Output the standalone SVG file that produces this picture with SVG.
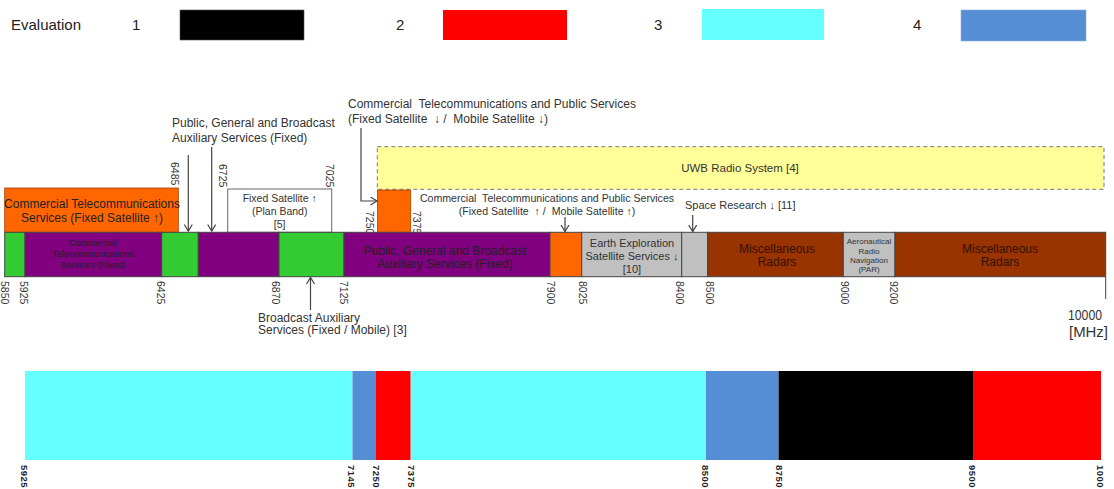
<svg xmlns="http://www.w3.org/2000/svg" width="1114" height="489" viewBox="0 0 1114 489">
<style>
text{font-family:"Liberation Sans",Arial,sans-serif;fill:#333}
.lg{font-size:15px;fill:#222}
.tk{font-size:10.5px;fill:#333;dominant-baseline:central}
.bt{font-size:9.5px;font-weight:bold;fill:#222;dominant-baseline:central;letter-spacing:0.5px}
.seg{stroke:#444;stroke-width:1}
.arr{fill:none;stroke:#444;stroke-width:1.2;marker-end:url(#ah)}
.c{text-anchor:middle}
.lbl{font-size:12px;fill:#333}
.in{fill:#222}
.rad{font-size:12px;fill:#331100;text-anchor:middle}
</style>
<defs>
<marker id="ah" markerUnits="userSpaceOnUse" markerWidth="10" markerHeight="10" refX="7" refY="4.5" orient="auto" viewBox="0 0 10 10">
<path d="M0.5,0.5 L7,4.5 L0.5,8.5" fill="none" stroke="#444" stroke-width="1.2"/>
</marker>
</defs>

<g id="legend">
<text class="lg" x="11" y="30">Evaluation</text>
<text class="lg" x="132" y="30">1</text>
<rect x="180" y="10" width="124" height="30" fill="#000" stroke="#555" stroke-width="0.6"/>
<text class="lg" x="396" y="30">2</text>
<rect x="443" y="10" width="124" height="30" fill="#FF0000"/>
<text class="lg" x="654" y="30">3</text>
<rect x="702" y="9" width="122" height="31" fill="#66FFFF"/>
<text class="lg" x="913" y="30">4</text>
<rect x="961" y="10" width="125" height="31" fill="#558ED5" stroke="#8aaee0" stroke-width="0.6"/>
</g>

<g id="uwb">
<rect x="377.3" y="146.7" width="726.7" height="42.6" fill="#FFFF99" stroke="#777" stroke-width="1" stroke-dasharray="4 3"/>
<text class="c" x="740" y="172" font-size="11.5" fill="#333">UWB Radio System [4]</text>
</g>

<g id="cts-fixed-sat-up">
<rect x="4.7" y="188" width="173.6" height="44.3" fill="#FF6600" stroke="#a04000" stroke-width="0.8"/>
<text class="c in" x="92" y="208" font-size="12">Commercial Telecommunications</text>
<text class="c in" x="92" y="222" font-size="12">Services (Fixed Satellite ↑)</text>
</g>

<g id="fixed-sat-plan">
<rect x="227.7" y="189" width="104" height="43.3" fill="#fff" stroke="#666" stroke-width="1"/>
<text class="c" x="279.7" y="201.7" font-size="10.5" fill="#444">Fixed Satellite ↑</text>
<text class="c" x="279.7" y="215" font-size="10.5" fill="#444">(Plan Band)</text>
<text class="c" x="279.7" y="228.3" font-size="10.5" fill="#444">[5]</text>
</g>

<g id="cts-7250">
<rect x="377.5" y="190" width="33.2" height="42.3" fill="#FF6600" stroke="#a04000" stroke-width="0.8"/>
</g>

<g id="label-pgb-fixed">
<text class="lbl" x="172" y="127">Public, General and Broadcast</text>
<text class="lbl" x="172" y="142">Auxiliary Services (Fixed)</text>
</g>

<g id="label-cts-down">
<text class="lbl" x="348" y="108" xml:space="preserve">Commercial  Telecommunications and Public Services</text>
<text class="lbl" x="348" y="123" xml:space="preserve">(Fixed Satellite  ↓ /  Mobile Satellite ↓)</text>
</g>

<g id="label-cts-up">
<text class="c" x="547" y="201.7" font-size="10.6" xml:space="preserve">Commercial  Telecommunications and Public Services</text>
<text class="c" x="547" y="215" font-size="10.6" xml:space="preserve">(Fixed Satellite  ↑ /  Mobile Satellite ↑)</text>
</g>

<g id="label-space-research">
<text x="685" y="209" font-size="11">Space Research ↓ [11]</text>
</g>

<g id="label-bas">
<text class="lbl" x="258" y="321.5">Broadcast Auxiliary</text>
<text class="lbl" x="258" y="334">Services (Fixed / Mobile) [3]</text>
</g>

<g id="upper-ticks">
<text class="tk" transform="translate(174.5,162) rotate(90)">6485</text>
<text class="tk" transform="translate(222.5,164) rotate(90)">6725</text>
<text class="tk" transform="translate(330,164) rotate(90)">7025</text>
<text class="tk" transform="translate(369.5,211) rotate(90)">7250</text>
<text class="tk" transform="translate(416.5,211) rotate(90)">7375</text>
</g>

<g id="band">
<rect class="seg" x="4.7" y="232.3" width="20.3" height="44.4" fill="#33CC33"/>
<rect class="seg" x="25" y="232.3" width="136.7" height="44.4" fill="#800080"/>
<rect class="seg" x="161.7" y="232.3" width="36.6" height="44.4" fill="#33CC33"/>
<rect class="seg" x="198.3" y="232.3" width="80.7" height="44.4" fill="#800080"/>
<rect class="seg" x="279" y="232.3" width="65" height="44.4" fill="#33CC33"/>
<rect class="seg" x="344" y="232.3" width="206" height="44.4" fill="#800080"/>
<rect class="seg" x="550" y="232.3" width="31.7" height="44.4" fill="#FF6600"/>
<rect class="seg" x="581.7" y="232.3" width="100" height="44.4" fill="#C0C0C0"/>
<rect class="seg" x="681.7" y="232.3" width="26" height="44.4" fill="#C0C0C0"/>
<rect class="seg" x="707.7" y="232.3" width="135.6" height="44.4" fill="#993300"/>
<rect class="seg" x="843.3" y="232.3" width="51.7" height="44.4" fill="#C0C0C0"/>
<rect class="seg" x="895" y="232.3" width="210.7" height="44.4" fill="#993300"/>
</g>

<g id="band-cts-fixed">
<text class="c in" x="93" y="245.7" font-size="9">Commercial</text>
<text class="c in" x="93" y="256.7" font-size="9">Telecommunications</text>
<text class="c in" x="93" y="267.7" font-size="9">Services (Fixed)</text>
</g>
<g id="band-pgb-fixed">
<text class="c in" x="445" y="255" font-size="12">Public, General and Broadcast</text>
<text class="c in" x="445" y="268.3" font-size="12">Auxiliary Services (Fixed)</text>
</g>
<g id="band-eess">
<text class="c" x="632" y="246.7" font-size="11">Earth Exploration</text>
<text class="c" x="632" y="259.5" font-size="11">Satellite Services ↓</text>
<text class="c" x="632" y="272.7" font-size="11">[10]</text>
</g>
<g id="band-radars-1">
<text class="rad" x="777" y="252.7">Miscellaneous</text>
<text class="rad" x="777" y="266">Radars</text>
</g>
<g id="band-arn">
<text class="c" x="869" y="244" font-size="8">Aeronautical</text>
<text class="c" x="869" y="253.5" font-size="8">Radio</text>
<text class="c" x="869" y="262.5" font-size="8">Navigation</text>
<text class="c" x="869" y="272" font-size="8">(PAR)</text>
</g>
<g id="band-radars-2">
<text class="rad" x="1000" y="252.7">Miscellaneous</text>
<text class="rad" x="1000" y="266">Radars</text>
</g>

<g id="lower-ticks">
<text class="tk" transform="translate(4.5,281) rotate(90)">5850</text>
<text class="tk" transform="translate(23.5,281) rotate(90)">5925</text>
<text class="tk" transform="translate(161,281) rotate(90)">6425</text>
<text class="tk" transform="translate(276,281) rotate(90)">6870</text>
<text class="tk" transform="translate(343.5,281) rotate(90)">7125</text>
<text class="tk" transform="translate(550.5,281) rotate(90)">7900</text>
<text class="tk" transform="translate(582.5,281) rotate(90)">8025</text>
<text class="tk" transform="translate(680,281) rotate(90)">8400</text>
<text class="tk" transform="translate(710,281) rotate(90)">8500</text>
<text class="tk" transform="translate(844.5,281) rotate(90)">9000</text>
<text class="tk" transform="translate(894,281) rotate(90)">9200</text>
<line x1="1105.7" y1="277" x2="1105.7" y2="299" stroke="#444" stroke-width="1"/>
<text x="1068" y="320" font-size="14" fill="#222" textLength="34" lengthAdjust="spacingAndGlyphs">10000</text>
<text x="1069" y="337" font-size="14" fill="#222" textLength="39" lengthAdjust="spacingAndGlyphs">[MHz]</text>
</g>

<g id="connectors">
<path class="arr" d="M188.3,155 V231"/>
<path class="arr" d="M211.7,147 V231"/>
<path class="arr" d="M361,128 V201 H377"/>
<path class="arr" d="M565,217 V231.5"/>
<path class="arr" d="M692.7,215 V231.5"/>
<path class="arr" d="M310.5,310 V277.5"/>
</g>

<g id="evaluation-bar">
<rect x="25" y="371" width="327.5" height="89" fill="#66FFFF"/>
<rect x="352.5" y="371" width="23.5" height="89" fill="#558ED5"/>
<rect x="376" y="371" width="34.7" height="89" fill="#FF0000"/>
<rect x="410.7" y="371" width="295.3" height="89" fill="#66FFFF"/>
<rect x="706" y="371" width="72.6" height="89" fill="#558ED5"/>
<rect x="778.6" y="371" width="194.4" height="89" fill="#000000"/>
<rect x="973" y="371" width="128" height="89" fill="#FF0000"/>
</g>

<g id="evaluation-ticks">
<text class="bt" transform="translate(24,465) rotate(90)">5925</text>
<text class="bt" transform="translate(351.5,465) rotate(90)">7145</text>
<text class="bt" transform="translate(376.5,465) rotate(90)">7250</text>
<text class="bt" transform="translate(411,465) rotate(90)">7375</text>
<text class="bt" transform="translate(705.7,465) rotate(90)">8500</text>
<text class="bt" transform="translate(779,465) rotate(90)">8750</text>
<text class="bt" transform="translate(972,465) rotate(90)">9500</text>
<text class="bt" transform="translate(1100,465) rotate(90)">1000</text>
</g>
</svg>
